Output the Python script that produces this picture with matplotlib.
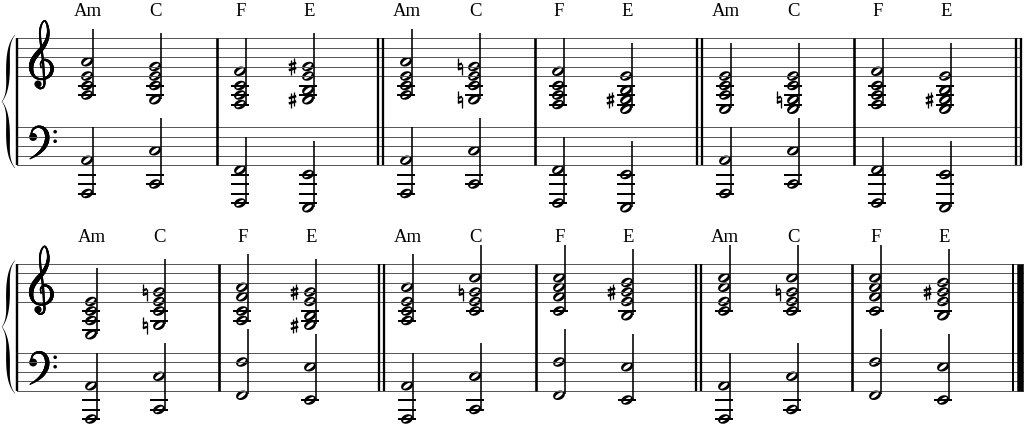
import numpy as np
import matplotlib
matplotlib.use("Agg")
import matplotlib.pyplot as plt
from matplotlib.path import Path
from matplotlib.patches import PathPatch, Circle
from matplotlib.collections import LineCollection
from matplotlib.transforms import Affine2D

# chord symbols over each half note
chord_names = ["Am", "C", "F", "E"] * 3

# notes per chord; "#" = sharp, "n" = natural sign
treble_1 = [
    ["A3", "C4", "E4", "A4"], ["G3", "C4", "E4", "G4"],
    ["F3", "A3", "C4", "F4"], ["G#3", "B3", "E4", "G#4"],
    ["A3", "C4", "E4", "A4"], ["Gn3", "C4", "E4", "Gn4"],
    ["F3", "A3", "C4", "F4"], ["E3", "G#3", "B3", "E4"],
    ["E3", "A3", "C4", "E4"], ["E3", "Gn3", "C4", "E4"],
    ["F3", "A3", "C4", "F4"], ["E3", "G#3", "B3", "E4"],
]
bass_1 = [["A1", "A2"], ["C2", "C3"], ["F1", "F2"], ["E1", "E2"]] * 3

treble_2 = [
    ["E3", "A3", "C4", "E4"], ["Gn3", "C4", "E4", "Gn4"],
    ["A3", "C4", "F4", "A4"], ["G#3", "B3", "E4", "G#4"],
    ["A3", "C4", "E4", "A4"], ["C4", "E4", "Gn4", "C5"],
    ["C4", "F4", "A4", "C5"], ["B3", "E4", "G#4", "B4"],
    ["C4", "E4", "A4", "C5"], ["C4", "E4", "Gn4", "C5"],
    ["C4", "F4", "A4", "C5"], ["B3", "E4", "G#4", "B4"],
]
bass_2 = [["A1", "A2"], ["C2", "C3"], ["F2", "F3"], ["E2", "E3"]] * 3

# barline kinds after each measure
bars_1 = ["single", "double", "single", "double", "single", "double"]
bars_2 = ["single", "double", "single", "double", "single", "final"]

# layout (pixels)
spacing = 9.5
step = spacing / 2
px = 72 / 100
systems = [
    dict(top=38.0, treble=treble_1, bass=bass_1, bars=bars_1,
         left=[64, 217, 383, 535, 702, 854], ends=[217, 378, 535, 697, 854, 1016], right=1021),
    dict(top=263.5, treble=treble_2, bass=bass_2, bars=bars_2,
         left=[68, 219, 384, 536, 701, 852], ends=[219, 379, 536, 696, 852, 1013], right=1023),
]
bass_gap = 89
chord_offsets = [23, 91]
LETTERS = "CDEFGAB"

# clef outlines in staff spaces (x right, y up), with stroke widths in px
g_clef_pts = [(0.75, 0.85), (0.7, 1.35), (1.05, 1.7), (1.6, 1.5), (1.9, 0.9), (1.75, 0.2),
              (1.2, -0.25), (0.5, -0.3), (-0.05, 0.05), (-0.3, 0.8), (-0.15, 1.6), (0.35, 2.35),
              (0.95, 3.05), (1.35, 3.8), (1.5, 4.6), (1.4, 5.35), (1.15, 5.8), (0.85, 5.55),
              (0.65, 4.9), (0.65, 4.0), (0.8, 2.8), (0.95, 1.5), (1.05, 0.0), (1.1, -0.8),
              (0.95, -1.2), (0.6, -1.3), (0.3, -1.1)]
g_clef_w = [1.2, 1.6, 2.2, 2.8, 3.6, 3.4, 2.4, 2.0, 2.8, 4.4, 4.8, 4.8,
            4.3, 3.5, 2.7, 2.0, 1.5, 1.6, 2.0, 2.1, 2.2, 2.2, 2.2, 2.1,
            2.0, 1.8, 1.6]
f_clef_pts = [(0.15, 0.15), (0.35, 0.72), (0.85, 1.02), (1.45, 0.88), (1.82, 0.3),
              (1.82, -0.5), (1.45, -1.25), (0.85, -1.85), (0.05, -2.35)]
f_clef_w = [1.5, 1.9, 2.3, 3.1, 4.3, 4.5, 3.8, 2.5, 1.0]


def diatonic(note):
    return LETTERS.index(note[0]) + 7 * int(note[-1])


def staff_y(d, top, clef):
    ref = diatonic("F5") if clef == "treble" else diatonic("A3")
    return top + (ref - d) * step


def head_path(x, y):
    t = np.linspace(0, 2 * np.pi, 48, endpoint=False)
    circ = np.c_[np.cos(t), np.sin(t)]
    outer = Affine2D().scale(6.1, 4.5).rotate_deg(-22).translate(x, y).transform(circ)
    inner = Affine2D().scale(4.5, 1.7).rotate_deg(-36).translate(x, y).transform(circ)[::-1]
    n = len(t)
    codes = ([Path.MOVETO] + [Path.LINETO] * (n - 1)) * 2
    return Path(np.vstack([outer, inner]), codes)


def smooth(pts, n=10):
    P = np.asarray(pts, float)
    P = np.vstack([P[0], P, P[-1]])
    out = []
    t = np.linspace(0, 1, n, endpoint=False)[:, None]
    for i in range(1, len(P) - 2):
        p0, p1, p2, p3 = P[i - 1], P[i], P[i + 1], P[i + 2]
        out.append(0.5 * (2 * p1 + (-p0 + p2) * t + (2 * p0 - 5 * p1 + 4 * p2 - p3) * t ** 2
                          + (-p0 + 3 * p1 - 3 * p2 + p3) * t ** 3))
    out.append(P[-2][None])
    return np.vstack(out)


def stroke(ax, pts, widths, x0, y0):
    c = smooth(pts)
    w = np.interp(np.linspace(0, len(pts) - 1, len(c)), np.arange(len(pts)), widths)
    xy = np.c_[x0 + c[:, 0] * spacing, y0 - c[:, 1] * spacing]
    segs = np.stack([xy[:-1], xy[1:]], axis=1)
    ax.add_collection(LineCollection(segs, linewidths=w[:-1] * px, colors="black",
                                     capstyle="round", joinstyle="round"))


def treble_clef(ax, x0, y_bottom):
    stroke(ax, g_clef_pts, g_clef_w, x0, y_bottom)
    ax.add_patch(Circle((x0 + 0.42 * spacing, y_bottom + 0.85 * spacing), 0.38 * spacing,
                        fc="black", ec="none"))


def bass_clef(ax, x0, y_fline):
    stroke(ax, f_clef_pts, f_clef_w, x0, y_fline)
    ax.add_patch(Circle((x0 + 0.38 * spacing, y_fline + 0.05 * spacing), 0.42 * spacing,
                        fc="black", ec="none"))
    for dy in (-0.5, 0.5):
        ax.add_patch(Circle((x0 + 2.7 * spacing, y_fline + dy * spacing), 0.19 * spacing,
                            fc="black", ec="none"))


def sharp(ax, cx, cy):
    for dx, y0, y1 in ((-1.7, cy - 6.5, cy + 8.2), (1.7, cy - 8.2, cy + 6.5)):
        ax.plot([cx + dx, cx + dx], [y0, y1], color="black", lw=1.3 * px, solid_capstyle="butt")
    for dy in (-2.6, 2.6):
        ax.plot([cx - 3.7, cx + 3.7], [cy + dy + 1.1, cy + dy - 1.1], color="black",
                lw=2.5 * px, solid_capstyle="butt")


def natural(ax, cx, cy):
    ax.plot([cx - 2.1, cx - 2.1], [cy - 8.5, cy + 2.8], color="black", lw=1.3 * px, solid_capstyle="butt")
    ax.plot([cx + 2.1, cx + 2.1], [cy - 2.8, cy + 8.5], color="black", lw=1.3 * px, solid_capstyle="butt")
    for dy in (-2.3, 2.3):
        ax.plot([cx - 2.1, cx + 2.1], [cy + dy + 0.7, cy + dy - 0.7], color="black",
                lw=2.3 * px, solid_capstyle="butt")


def brace(ax, y0, y1, xr=15.0, xl=2.0):
    s = np.linspace(0, 1, 201)
    u = np.where(s < 0.5, 2 * s, 2 * (1 - s))
    xc = 8.0 + (xr - 8.0) * (1 - u) ** 8 - (8.0 - xl) * u ** 8
    w = 0.5 + 3.3 * np.sin(np.pi * u) ** 1.5
    y = y0 + (y1 - y0) * s
    verts = np.vstack([np.c_[xc - w / 2, y], np.c_[xc + w / 2, y][::-1]])
    ax.fill(verts[:, 0], verts[:, 1], color="black", lw=0)


def draw_chord(ax, x, notes, top, clef):
    ds = [diatonic(n) for n in notes]
    ys = [staff_y(d, top, clef) for d in ds]
    low_line = diatonic("E4") if clef == "treble" else diatonic("G2")
    d = low_line - 2
    while d >= min(ds):
        yl = staff_y(d, top, clef)
        ax.plot([x - 9, x + 9], [yl, yl], color="black", lw=2.0 * px, solid_capstyle="butt")
        d -= 2
    for n, yv in zip(notes, ys):
        ax.add_patch(PathPatch(head_path(x, yv), fc="black", ec="none"))
        if "#" in n:
            sharp(ax, x - 15.5, yv)
        elif "n" in n:
            natural(ax, x - 14, yv)
    xs = x + 5.5
    ax.plot([xs, xs], [max(ys) - 1, min(ys) - 3.5 * spacing], color="black",
            lw=1.6 * px, solid_capstyle="butt")


fig = plt.figure(figsize=(10.24, 4.32), dpi=100)
ax = fig.add_axes([0, 0, 1, 1])
ax.set_xlim(0, 1024)
ax.set_ylim(432, 0)
ax.axis("off")

for sysd in systems:
    top = sysd["top"]
    btop = top + bass_gap
    bottom = btop + 4 * spacing
    for st in (top, btop):
        for i in range(5):
            ax.plot([17, sysd["right"]], [st + i * spacing] * 2, color="0.35", lw=1.0 * px)
    ax.plot([17, 17], [top, bottom], color="black", lw=2.4 * px, solid_capstyle="butt")
    brace(ax, top - 3, bottom + 3)
    treble_clef(ax, 34, top + 4 * spacing)
    bass_clef(ax, 29.5, btop + spacing)

    for xb, kind in zip(sysd["ends"], sysd["bars"]):
        if kind == "single":
            ax.plot([xb, xb], [top, bottom], color="black", lw=2.6 * px, solid_capstyle="butt")
        elif kind == "double":
            for xx in (xb, xb + 5):
                ax.plot([xx, xx], [top, bottom], color="black", lw=2.3 * px, solid_capstyle="butt")
        else:
            ax.plot([xb, xb], [top, bottom], color="black", lw=2.0 * px, solid_capstyle="butt")
            ax.plot([xb + 7, xb + 7], [top, bottom], color="black", lw=6.5 * px, solid_capstyle="butt")

    for i, name in enumerate(chord_names):
        x = sysd["left"][i // 2] + chord_offsets[i % 2]
        draw_chord(ax, x, sysd["treble"][i], top, "treble")
        draw_chord(ax, x, sysd["bass"][i], btop, "bass")
        ax.text(x + 1, top - 26, name, ha="center", va="center",
                family="Liberation Serif", fontsize=13.5)

fig.savefig("out.png", dpi=100, facecolor="white")
